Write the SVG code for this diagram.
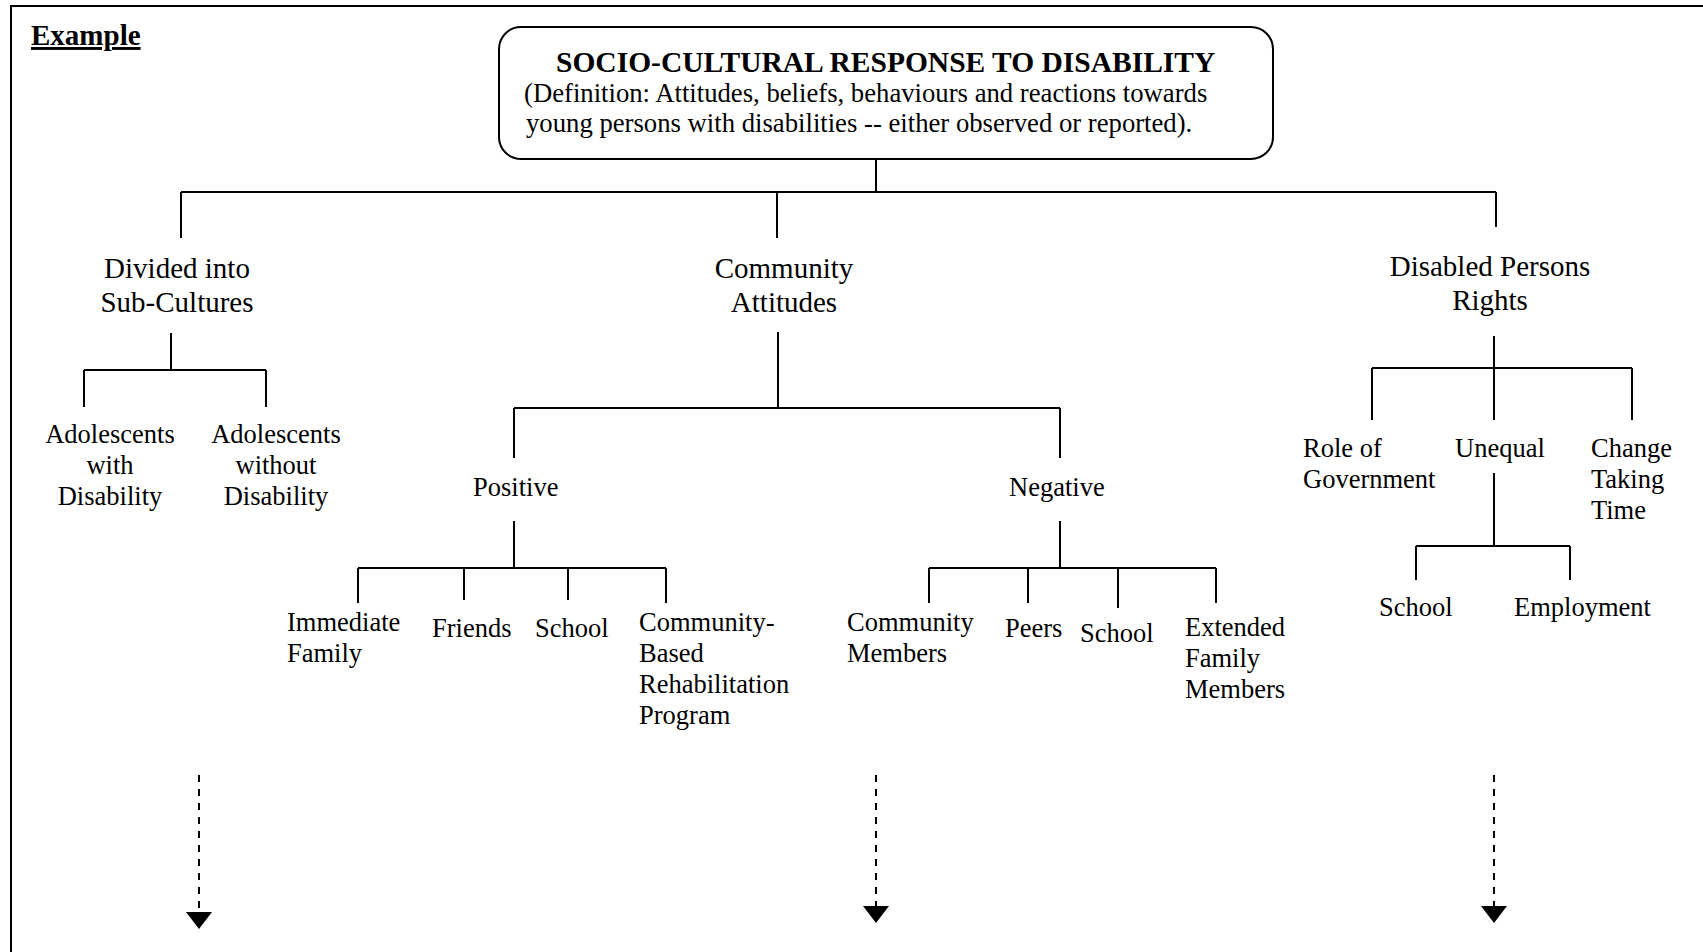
<svg xmlns="http://www.w3.org/2000/svg" width="1703" height="952" viewBox="0 0 1703 952">
<style>
text{font-family:"Liberation Serif","Times New Roman",serif;fill:#000}
.l1{font-size:29px}
.l2{font-size:26.5px}
.tt{font-size:29.5px}
.def{font-size:26.7px}
.b{font-weight:bold}
.c{text-anchor:middle}
.ln{fill:none;stroke:#000;stroke-width:2}
.dash{fill:none;stroke:#000;stroke-width:2;stroke-dasharray:7 7}
</style>
<rect width="1703" height="952" fill="#fff"/>
<path class="ln" d="M11,960 V6 H1710"/>
<g id="example"><text class="l1 b" x="31" y="45" text-decoration="underline">Example</text></g>
<g id="root">
<rect class="ln" x="499" y="27" width="774" height="132" rx="22" ry="22"/>
<text class="tt b" x="556" y="72">SOCIO-CULTURAL RESPONSE TO DISABILITY</text>
<text class="def" x="524" y="102">(Definition: Attitudes, beliefs, behaviours and reactions towards</text>
<text class="def" x="526" y="132">young persons with disabilities -- either observed or reported).</text>
</g>
<g id="connectors">
<path class="ln" d="M876,159 V192 M181,192 H1496 M181,192 V238 M777,192 V238 M1496,192 V227"/>
<path class="ln" d="M171,333 V370 M84,370 H266 M84,370 V407 M266,370 V407"/>
<path class="ln" d="M778,332 V408 M514,408 H1060 M514,408 V458 M1060,408 V458"/>
<path class="ln" d="M514,521 V568 M358,568 H666 M358,568 V603 M464,568 V600 M568,568 V600 M666,568 V603"/>
<path class="ln" d="M1060,521 V568 M929,568 H1216 M929,568 V603 M1028,568 V603 M1118,568 V608 M1216,568 V603"/>
<path class="ln" d="M1494,336 V368 M1372,368 H1632 M1372,368 V420 M1494,368 V420 M1632,368 V420"/>
<path class="ln" d="M1494,473 V546 M1416,546 H1570 M1416,546 V580 M1570,546 V580"/>
<path class="dash" d="M199,775 V912 M876,775 V906 M1494,775 V906"/>
<polygon points="186,912 212,912 199,929" fill="#000"/>
<polygon points="863,906 889,906 876,923" fill="#000"/>
<polygon points="1481,906 1507,906 1494,923" fill="#000"/>
</g>
<g id="subcultures"><text class="l1 c" x="177" y="278">Divided into</text><text class="l1 c" x="177" y="312">Sub-Cultures</text></g>
<g id="community"><text class="l1 c" x="784" y="278">Community</text><text class="l1 c" x="784" y="312">Attitudes</text></g>
<g id="rights"><text class="l1 c" x="1490" y="276">Disabled Persons</text><text class="l1 c" x="1490" y="310">Rights</text></g>
<g id="adol-with"><text class="l2 c" x="110" y="443">Adolescents</text><text class="l2 c" x="110" y="474">with</text><text class="l2 c" x="110" y="505">Disability</text></g>
<g id="adol-without"><text class="l2 c" x="276" y="443">Adolescents</text><text class="l2 c" x="276" y="474">without</text><text class="l2 c" x="276" y="505">Disability</text></g>
<g id="positive"><text class="l2" x="473" y="496">Positive</text></g>
<g id="negative"><text class="l2" x="1009" y="496">Negative</text></g>
<g id="immediate-family"><text class="l2" x="287" y="631">Immediate</text><text class="l2" x="287" y="662">Family</text></g>
<g id="friends"><text class="l2" x="432" y="637">Friends</text></g>
<g id="school-pos"><text class="l2" x="535" y="637">School</text></g>
<g id="cbr"><text class="l2" x="639" y="631">Community-</text><text class="l2" x="639" y="662">Based</text><text class="l2" x="639" y="693">Rehabilitation</text><text class="l2" x="639" y="724">Program</text></g>
<g id="community-members"><text class="l2" x="847" y="631">Community</text><text class="l2" x="847" y="662">Members</text></g>
<g id="peers"><text class="l2" x="1005" y="637">Peers</text></g>
<g id="school-neg"><text class="l2" x="1080" y="642">School</text></g>
<g id="extended-family"><text class="l2" x="1185" y="636">Extended</text><text class="l2" x="1185" y="667">Family</text><text class="l2" x="1185" y="698">Members</text></g>
<g id="role-gov"><text class="l2" x="1303" y="457">Role of</text><text class="l2" x="1303" y="488">Government</text></g>
<g id="unequal"><text class="l2" x="1455" y="457">Unequal</text></g>
<g id="change"><text class="l2" x="1591" y="457">Change</text><text class="l2" x="1591" y="488">Taking</text><text class="l2" x="1591" y="519">Time</text></g>
<g id="school-unequal"><text class="l2" x="1379" y="616">School</text></g>
<g id="employment"><text class="l2" x="1514" y="616">Employment</text></g>
</svg>
